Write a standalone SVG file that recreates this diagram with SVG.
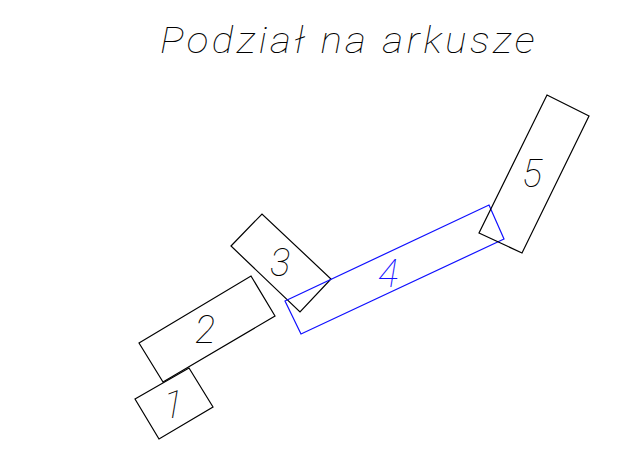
<svg xmlns="http://www.w3.org/2000/svg" width="644" height="452" viewBox="0 0 644 452">
<style>
.sheet{fill:none;stroke:#000;stroke-width:1.2}
.blue{stroke:#1010ff}
.lbl{font-family:Roboto,"Liberation Sans",sans-serif;font-weight:100;font-style:italic;font-size:38px;text-anchor:middle;fill:#000}
.lb{fill:#1010ff}
.title{font-family:Roboto,"Liberation Sans",sans-serif;font-weight:100;font-style:italic;font-size:36px;letter-spacing:3px;fill:#000}
</style>
<rect width="644" height="452" fill="#fff"/>
<text class="title" x="160" y="53" textLength="378" lengthAdjust="spacingAndGlyphs">Podział na arkusze</text>
<g id="sheet1"><polygon class="sheet" points="135,399 189,368 213,407 159,439"/><text class="lbl" x="173" y="418">1</text></g>
<g id="sheet2"><polygon class="sheet" points="139,343 251,276 275,316 163,382"/><text class="lbl" x="205" y="343">2</text></g>
<g id="sheet3"><polygon class="sheet" points="231,246 262,214 331,279 300,312"/><text class="lbl" x="280" y="276">3</text></g>
<g id="sheet4"><polygon class="sheet blue" points="285,301 489,205 504,239 301,334"/><text class="lbl lb" x="388" y="287">4</text></g>
<g id="sheet5"><polygon class="sheet" points="547,95 589,116 522,253 479,233"/><text class="lbl" x="532" y="187">5</text></g>
<g id="connectors"></g>
</svg>
